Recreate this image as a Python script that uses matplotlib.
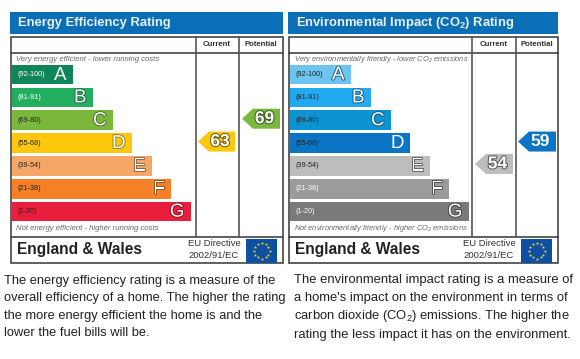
import matplotlib
matplotlib.use('Agg')
import matplotlib.pyplot as plt
import matplotlib.patheffects as pe
from matplotlib.patches import Polygon, Rectangle
import numpy as np

plt.rcParams['font.family'] = ['Liberation Sans', 'DejaVu Sans']
plt.rcParams['mathtext.default'] = 'regular'

bands = ['(92-100)', '(81-91)', '(69-80)', '(55-68)', '(39-54)', '(21-38)', '(1-20)']
letters = ['A', 'B', 'C', 'D', 'E', 'F', 'G']
bar_lengths = [61, 81, 101, 120, 140, 159, 179]

energy_colors = ['#0f8559', '#22ae5f', '#79b83c', '#fdc70b', '#f6a765', '#f58025', '#e91d3c']
energy_label_colors = ['white', 'white', '#222222', '#222222', '#222222', '#222222', '#222222']
energy_current = 63
energy_potential = 69

env_colors = ['#6cc4f0', '#22aaf0', '#0d93d2', '#0a75c4', '#bdbdbd', '#9b9b9b', '#7a7a7a']
env_label_colors = ['#222222', '#222222', '#222222', '#222222', '#222222', 'white', 'white']
env_current = 54
env_potential = 59

energy_text = ['The energy efficiency rating is a measure of the',
               'overall efficiency of a home. The higher the rating',
               'the more energy efficient the home is and the',
               'lower the fuel bills will be.']
env_text = ['The environmental impact rating is a measure of',
            "a home's impact on the environment in terms of",
            'carbon dioxide (CO$_2$) emissions. The higher the',
            'rating the less impact it has on the environment.']


def arrow(ax, x0, x1, yc, color, value, edge):
    h = 10
    ax.add_patch(Polygon([(x0, yc), (x0 + 11, yc - h), (x1, yc - h), (x1, yc + h), (x0 + 11, yc + h)],
                         facecolor=color, edgecolor='none', zorder=3))
    t = ax.text((x0 + x1) / 2 + 3.5, yc, str(value), color='white', fontsize=12.5, fontweight='bold',
                ha='center', va='center', zorder=4)
    if edge:
        t.set_path_effects([pe.withStroke(linewidth=1.4, foreground=edge)])


def panel(ax, x0, x1, col1, col2, title, top_txt, bottom_txt, note_size, colors, label_colors, outline, cur, pot):
    ax.add_patch(Rectangle((x0, 12), x1 - x0, 21.5, facecolor='#0b6fb8', edgecolor='none'))
    ax.text(x0 + 8, 23, title, color='#e8f2fa', fontsize=9.4, fontweight='bold', va='center')

    # cadre
    lw = 1.2
    ax.add_patch(Rectangle((x0 + 1, 37), x1 - x0 - 1, 226, facecolor='white', edgecolor='#444444', lw=lw))
    ax.plot([x0 + 1, x1], [53, 53], color='#444444', lw=lw)
    ax.plot([x0 + 1, x1], [237, 237], color='#444444', lw=lw)
    ax.plot([col1, col1], [37, 237], color='#555555', lw=lw)
    ax.plot([col2, col2], [37, 237], color='#555555', lw=lw)
    ax.text((col1 + col2) / 2, 45, 'Current', fontsize=5.6, fontweight='bold', color='#333333', ha='center', va='center')
    ax.text((col2 + x1) / 2, 45, 'Potential', fontsize=5.6, fontweight='bold', color='#333333', ha='center', va='center')

    ax.text(x0 + 5.5, 59.5, top_txt, fontsize=note_size, style='italic', color='#666666', va='center')
    ax.text(x0 + 5.5, 228.5, bottom_txt, fontsize=note_size, style='italic', color='#666666', va='center')

    ys = 74.5 + 22.85 * np.arange(len(bands))
    ax.barh(ys, bar_lengths, height=19.5, left=x0 + 2, color=colors, zorder=2)
    for i in range(len(bands)):
        ax.text(x0 + 7, ys[i], bands[i], fontsize=5.2, color=label_colors[i], va='center', zorder=3)
        t = ax.text(x0 + 2 + bar_lengths[i] - 6.5, ys[i] + 0.5, letters[i], fontsize=13.5, color='white',
                    ha='right', va='center', zorder=3)
        if outline[i]:
            t.set_path_effects([pe.withStroke(linewidth=1.4, foreground=outline[i])])

    # fleches, position d'apres la bande de la note
    def row(v):
        for i, b in enumerate(bands):
            lo, hi = b.strip('()').split('-')
            if int(lo) <= v <= int(hi):
                return ys[i]

    for val, xa, xb, off in cur + pot:
        i = row(val)
        arrow(ax, xa, xb, i + off[0], off[1], val, off[2])

    # pied
    ax.text(x0 + 7, 249.5, 'England & Wales', fontsize=11.2, fontweight='bold', color='#222222', va='center')
    ax.text(x1 - 95, 243.5, 'EU Directive', fontsize=6.8, color='#333333', va='center')
    ax.text(x1 - 95, 255, '2002/91/EC', fontsize=6.8, color='#333333', va='center')
    fx = x1 - 37
    ax.add_patch(Rectangle((fx, 238.5), 31, 24, facecolor='#0d4fa3', edgecolor='none', zorder=2))
    a = np.deg2rad(np.arange(0, 360, 30))
    ax.scatter(fx + 15.5 + 8 * np.cos(a), 250.5 + 8 * np.sin(a), marker='*', s=6, color='#f5d92b', linewidths=0, zorder=3)


fig = plt.figure(figsize=(5.8, 3.59), dpi=100)
ax = fig.add_axes([0, 0, 1, 1])
ax.set_xlim(0, 580)
ax.set_ylim(359, 0)
ax.axis('off')

panel(ax, 10, 283, 195.5, 238.5, 'Energy Efficiency Rating',
      'Very energy efficient - lower running costs', 'Not energy efficient - higher running costs', 5.6,
      energy_colors, energy_label_colors,
      [None, '#1c6b45', '#55702c', '#9c8420', '#8a6a4a', '#8a5a2a', '#8a1428'],
      [(energy_current, 198, 235, (-1.5, '#fdc70b', '#6b5a10'))],
      [(energy_potential, 242, 280, (-1.5, '#79b83c', '#3c5a20'))])

panel(ax, 288, 558, 472, 516, 'Environmental Impact (CO$_2$) Rating',
      'Very environmentally friendly - lower CO$_2$ emissions', 'Not environmentally friendly - higher CO$_2$ emissions', 5.4,
      env_colors, env_label_colors,
      ['#2c5f88', '#1c5c88', '#0d5c88', None, '#666666', '#555555', '#444444'],
      [(env_current, 475, 513, (-2, '#bdbdbd', '#555555'))],
      [(env_potential, 518, 556, (-1.5, '#0a75c4', None))])

for i, line in enumerate(energy_text):
    ax.text(4, 281 + 17.3 * i, line, fontsize=9.25, color='#222222', va='center')
for i, line in enumerate(env_text):
    ax.text(293.5, 279.5 + 18.5 * i, line, fontsize=9.35, color='#222222', va='center')

fig.savefig('out.png', dpi=100)
